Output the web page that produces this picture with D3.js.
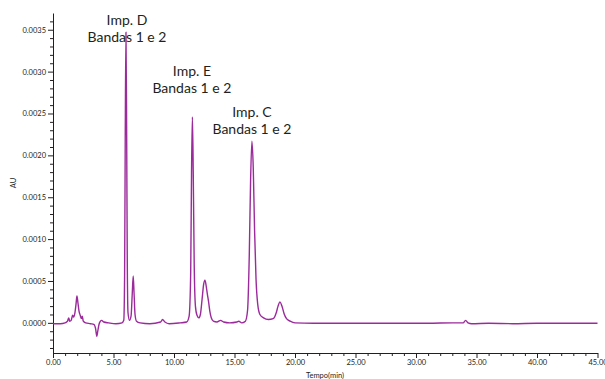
<html lang="en">
<head>
<meta charset="utf-8">
<title>Cromatograma</title>
<style>
  body { margin: 0; background: #fff; }
  .axis text { font-family: Lato, "Open Sans", sans-serif; font-size: 7.5px; fill: #231f20; }
  .axis path, .axis line { stroke: #231f20; stroke-width: 1px; }
  .note { font-family: Lato, "Open Sans", sans-serif; font-size: 14px; fill: #231f20; }
  .title { font-family: Lato, "Open Sans", sans-serif; font-size: 7.5px; fill: #231f20; }
</style>
</head>
<body>
<div id="chart"></div>
<script src="https://cdn.jsdelivr.net/npm/d3@7"></script>
<script>

// tempo (min) and absorbance (AU)
var tempo = [0.00, 0.60, 1.00, 1.20, 1.30, 1.38, 1.50, 1.62, 1.70, 1.80, 1.90, 1.98, 2.06, 2.15, 2.25, 2.35, 2.42, 2.50, 2.70,
  3.10, 3.40, 3.52, 3.62, 3.70, 3.80, 3.92, 4.02, 4.20, 4.60, 5.20, 5.70, 5.85, 5.92, 5.97, 6.03, 6.09, 6.14, 6.20,
  6.32, 6.45, 6.55, 6.63, 6.70, 6.78, 6.90, 7.20, 8.00, 8.90, 9.05, 9.25, 9.60, 10.50, 11.05, 11.25, 11.38, 11.45,
  11.52, 11.59, 11.67, 11.77, 11.90, 12.05, 12.18, 12.32, 12.45, 12.56, 12.66, 12.76, 12.86, 12.96, 13.08, 13.25,
  13.55, 13.85, 14.10, 14.60, 15.20, 15.35, 15.60, 15.90, 16.08, 16.22, 16.33, 16.44, 16.55, 16.66, 16.78, 16.92,
  17.10, 17.40, 17.80, 18.20, 18.45, 18.60, 18.76, 18.92, 19.10, 19.30, 19.60, 20.00, 21.50, 23.00, 25.00, 27.00,
  29.00, 31.00, 33.00, 33.90, 34.10, 34.30, 34.60, 36.00, 38.00, 40.00, 42.00, 45.00];

var au = [-0.00001, -0.00001, 0.00000, 0.00002, 0.00006, 0.00002, 0.00003, 0.00009, 0.00007, 0.00011, 0.00022, 0.00032, 0.00024, 0.00014, 0.00009, 0.00005, 0.00008, 0.00002, 0.00000,
  -0.00001, -0.00002, -0.00007, -0.00016, -0.00010, -0.00002, 0.00002, 0.00003, 0.00001, 0.00000, -0.00001, 0.00000, 0.00003, 0.00060, 0.00220, 0.00347, 0.00220, 0.00070, 0.00012,
  0.00003, 0.00008, 0.00035, 0.00056, 0.00035, 0.00010, 0.00002, 0.00000, -0.00001, 0.00001, 0.00004, 0.00001, -0.00001, 0.00000, 0.00001, 0.00008, 0.00060, 0.00180,
  0.00246, 0.00180, 0.00070, 0.00020, 0.00009, 0.00006, 0.00010, 0.00028, 0.00046, 0.00051, 0.00044, 0.00034, 0.00025, 0.00014, 0.00006, 0.00002,
  0.00001, 0.00003, 0.00001, 0.00000, 0.00001, 0.00002, 0.00000, 0.00002, 0.00015, 0.00080, 0.00170, 0.00217, 0.00185, 0.00110, 0.00052, 0.00022,
  0.00010, 0.00006, 0.00004, 0.00005, 0.00012, 0.00020, 0.00025, 0.00020, 0.00011, 0.00005, 0.00002, 0.00000, -0.000005, -0.000005, -0.000005, -0.000005,
  -0.000005, -0.000005, 0.00000, 0.00000, 0.00003, 0.00000, -0.00001, -0.000005, -0.00001, -0.000005, -0.000005, -0.000005];

// labelled peaks
var peakTimes = [6.03, 11.52, 16.44];
var peakNames = ["Imp. D", "Imp. E", "Imp. C"];
var peakBands = ["Bandas 1 e 2", "Bandas 1 e 2", "Bandas 1 e 2"];

var xMajor = [0, 5, 10, 15, 20, 25, 30, 35, 40, 45];
var yMajor = [0.0000, 0.0005, 0.0010, 0.0015, 0.0020, 0.0025, 0.0030, 0.0035];

var width = 605, height = 379;

var svg = d3.select("#chart").append("svg")
  .attr("width", width)
  .attr("height", height);

var x = d3.scaleLinear().domain([0, 45]).range([53, 597.5]);
var y = d3.scaleLinear().domain([-0.00036, 0.0037]).range([353, 13]);

var xMinor = d3.range(0, 46, 1).filter(function(d){ return d % 5 !== 0; });
var yMinor = d3.range(-3, 37, 1).map(function(d){ return d / 10000; })
  .filter(function(d){ return Math.abs(Math.round(d * 10000) % 5) !== 0; });

// minor ticks first
svg.append("g").attr("class", "axis")
  .attr("transform", "translate(0,353)")
  .call(d3.axisBottom(x).tickValues(xMinor).tickSize(3).tickFormat(""))
  .select(".domain").remove();

svg.append("g").attr("class", "axis")
  .attr("transform", "translate(53,0)")
  .call(d3.axisLeft(y).tickValues(yMinor).tickSize(3).tickFormat(""))
  .select(".domain").remove();

svg.append("g").attr("class", "axis")
  .attr("transform", "translate(0,353)")
  .call(d3.axisBottom(x).tickValues(xMajor).tickSize(5).tickSizeOuter(0).tickPadding(2).tickFormat(d3.format(".2f")));

svg.append("g").attr("class", "axis")
  .attr("transform", "translate(53,0)")
  .call(d3.axisLeft(y).tickValues(yMajor).tickSize(5).tickSizeOuter(0).tickPadding(2).tickFormat(d3.format(".4f")));

svg.append("text").attr("class", "title")
  .attr("transform", "translate(16,183) rotate(-90)")
  .attr("text-anchor", "middle")
  .text("AU");

svg.append("text").attr("class", "title")
  .attr("x", 325).attr("y", 378)
  .attr("text-anchor", "middle")
  .text("Tempo(min)");

var line = d3.line()
  .x(function(d, i){ return x(tempo[i]); })
  .y(function(d){ return y(d); })
  .curve(d3.curveMonotoneX);

svg.append("path")
  .datum(au)
  .attr("d", line)
  .attr("fill", "none")
  .attr("stroke", "#9b2a9b")
  .attr("stroke-width", 1.4)
  .attr("stroke-linejoin", "round");

// peak notes
var noteY = [25, 76, 117];
var noteDx = [1, -0.5, 0];
peakTimes.forEach(function(t, i){
  var g = svg.append("text").attr("class", "note")
    .attr("text-anchor", "middle");
  g.append("tspan").attr("x", x(t) + noteDx[i]).attr("y", noteY[i]).text(peakNames[i]);
  g.append("tspan").attr("x", x(t) + noteDx[i]).attr("y", noteY[i] + 17).text(peakBands[i]);
});

</script>
</body>
</html>
